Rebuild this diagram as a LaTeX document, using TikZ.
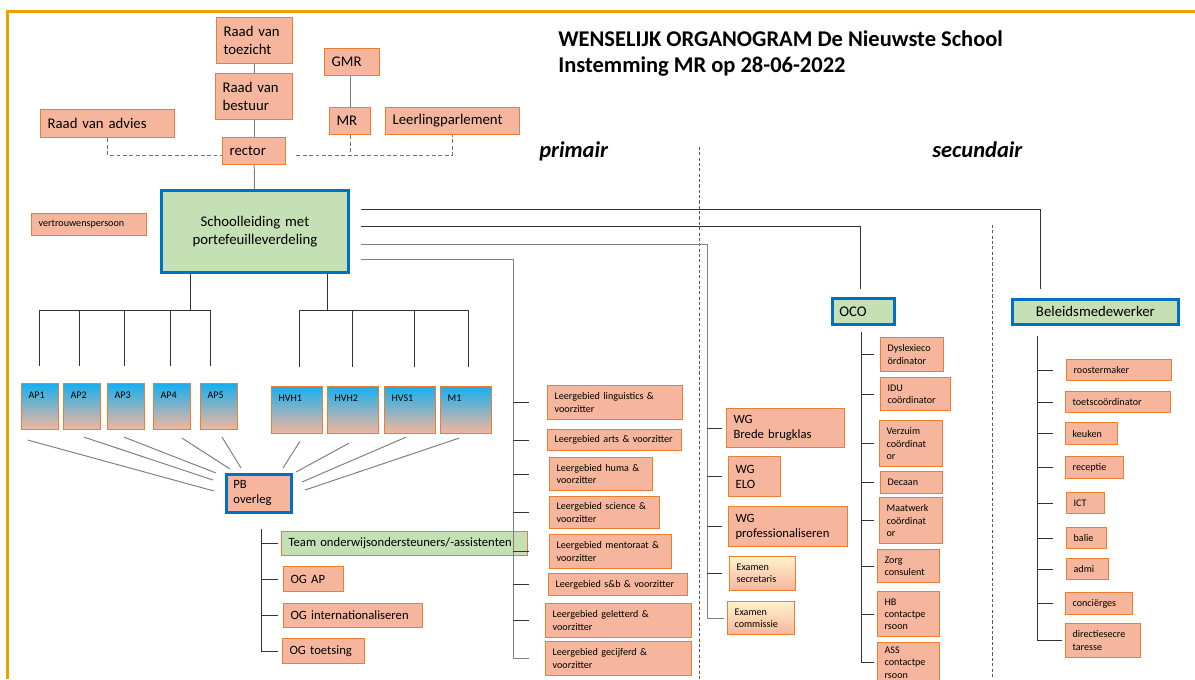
\documentclass[tikz,border=0pt]{standalone}
\usepackage{fontspec}
\setmainfont{Carlito}
\usetikzlibrary{calc}

\begin{document}
\begin{tikzpicture}[x=0.025cm,y=-0.025cm,
  boxat/.code 2 args={\pgfmathsetlengthmacro\boxw{#1*0.025cm-10pt}\pgfmathsetlengthmacro\boxh{#2*0.025cm}%
    \pgfkeysalso{anchor=north west,text width=\boxw,minimum height=\boxh,inner xsep=5pt,inner ysep=1pt,align=left}},
  pinknode/.style={draw=orangeline,fill=salmon,line width=0.8pt},
  greennode/.style={draw=orangeline,fill=leafgreen,line width=0.8pt},
  leadnode/.style={draw=boardblue,fill=leafgreen,line width=2pt},
  gradnode/.style={draw=orangeline,line width=0.8pt,top color=skyblue,bottom color=salmon,text height=5pt,text depth=17pt,inner ysep=4.5pt},
  examnode/.style={draw=orangeline,line width=0.8pt,top color=paleyellow,bottom color=salmon},
  smalltext/.style={font=\fontsize{7.2}{8.7}\selectfont},
  midtext/.style={font=\fontsize{9}{10.6}\selectfont},
  bigtext/.style={font=\fontsize{10.5}{12.8}\selectfont},
  link/.style={draw=black!80,line width=0.6pt},
  greylink/.style={draw=black!50,line width=0.7pt},
  dashlink/.style={draw=black!55,line width=0.8pt,dash pattern=on 2.8pt off 1.8pt},
  divider/.style={draw=black!65,line width=0.5pt,dash pattern=on 2.2pt off 1.6pt}]
\definecolor{salmon}{HTML}{F5B69D}
\definecolor{orangeline}{HTML}{ED7D31}
\definecolor{leafgreen}{HTML}{C5E0B4}
\definecolor{boardblue}{HTML}{0070C0}
\definecolor{skyblue}{HTML}{17AFEF}
\definecolor{paleyellow}{HTML}{FFF2CC}
\definecolor{framegold}{HTML}{E8A202}
\useasboundingbox[fill=white] (0,0) rectangle (1195,679);
\draw[framegold,line width=1.8pt] (7.5,679) -- (7.5,11.5) -- (1195,11.5);

\node[anchor=north west,align=left,inner sep=0pt,font=\fontsize{16}{18.5}\selectfont\bfseries] (title) at (558,30) {WENSELIJK ORGANOGRAM De Nieuwste School\\Instemming MR op 28-06-2022};
\node[anchor=base west,inner sep=0pt,font=\fontsize{16}{19}\selectfont\bfseries\itshape] (primair) at (539,157) {primair};
\node[anchor=base west,inner sep=0pt,font=\fontsize{16}{19}\selectfont\bfseries\itshape] (secundair) at (932,157) {secundair};
\draw[divider] (699,147) -- (699,679);
\draw[divider] (992,225) -- (992,679);

\node[pinknode,boxat={76}{46},bigtext] (toezicht) at (216,17) {Raad van\\toezicht};
\node[pinknode,boxat={77}{46},bigtext] (bestuur) at (215,73) {Raad van\\bestuur};
\node[pinknode,boxat={55}{27},bigtext] (gmr) at (324,48) {GMR};
\node[pinknode,boxat={41}{27},bigtext] (mr) at (329,107) {MR};
\node[pinknode,boxat={134}{27},bigtext] (parlement) at (385,107) {Leerlingparlement};
\node[pinknode,boxat={134}{28},bigtext] (advies) at (40,109) {Raad van advies};
\node[pinknode,boxat={63}{27},bigtext] (rector) at (222,137) {rector};
\node[pinknode,boxat={115}{22},smalltext] (vertrouwen) at (31,213) {vertrouwenspersoon};
\node[leadnode,boxat={187}{82},align=center,bigtext] (leiding) at (160,189) {Schoolleiding met\\portefeuilleverdeling};
\node[leadnode,boxat={62}{26},bigtext] (oco) at (831,297) {OCO};
\node[leadnode,boxat={166}{25},align=center,bigtext] (beleid) at (1011,298) {Beleidsmedewerker};
\node[pinknode,draw=boardblue,line width=2pt,boxat={65}{38},midtext] (pb) at (225,473) {PB\\overleg};

\draw[greylink] (toezicht) -- (bestuur);
\draw[greylink] (bestuur) -- (rector);
\draw[greylink] (rector) -- (leiding);
\draw[greylink] (mr.north) -- (mr.north |- gmr.south);
\draw[dashlink] (advies.south) |- ($(rector.west)+(0,4)$);
\coordinate (dashend) at ($(rector.east)+(10,4)$);
\draw[dashlink] (dashend) -| (parlement.south);
\draw[dashlink] (mr.south) -- (mr.south |- dashend);

\coordinate (apbar) at (190,310);
\coordinate (hvbar) at (327,310);
\draw[link] (apbar |- leiding.south) -- (apbar);
\draw[link] (hvbar |- leiding.south) -- (hvbar);
\draw[link] (39,310) -- (210,310);
\draw[link] (299,310) -- (468,310);
\foreach \n/\x/\lx in {1/21/39,2/63/79,3/107/124,4/153/170,5/200/210}
{ \node[boxat={37}{46},gradnode,smalltext] (ap\n) at (\x,383) {AP\n};
  \draw[link] (\lx,310) -- (\lx,366); }
\foreach \n/\x/\lx/\t in {1/271/299/HVH1,2/327/352/HVH2,3/384/414/HVS1,4/440/468/M1}
{ \node[boxat={51}{47},gradnode,smalltext] (hv\n) at (\x,386) {\t};
  \draw[link] (\lx,310) -- (\lx,367); }
\foreach \b/\sx/\sy/\ex/\ey in {ap1/-12/10/-11/18,ap2/2/7/-12/7,ap3/-2/7/-9/0,ap4/10/8/5/-4,ap5/3/7/16/-5,hv1/3/7/58/-5,hv2/-4/9/71/-1,hv3/-4/3/77/9,hv4/-7/4/80/17}
  \draw[greylink] ($(\b.south)+(\sx,\sy)$) -- ($(pb.north west)+(\ex,\ey)$);

\node[greennode,boxat={246}{24},midtext] (team) at (281,531) {Team onderwijsondersteuners/-assistenten};
\node[pinknode,boxat={60}{25},midtext] (ogap) at (283,566) {OG AP};
\node[pinknode,boxat={139}{24},midtext] (ogint) at (283,603) {OG internationaliseren};
\node[pinknode,boxat={82}{25},midtext] (ogtoets) at (282,638) {OG toetsing};
\coordinate (pbspine) at ($(pb.south west)+(36,15)$);
\draw[link] (pbspine) -- (pbspine |- ogtoets.west) -- ++(17,0);
\foreach \b in {team,ogap,ogint}
  \draw[link] (pbspine |- \b.west) -- ++(17,0);

\foreach \i/\x/\y/\w/\h/\t in {1/547/385/135/34/{Leergebied linguistics \&\\voorzitter},2/547/429/134/21/{Leergebied arts \& voorzitter},3/549/457/103/33/{Leergebied huma \&\\voorzitter},4/549/496/110/32/{Leergebied science \&\\voorzitter},5/549/534/122/34/{Leergebied mentoraat \&\\voorzitter},6/548/573/139/22/{Leergebied s\&b \& voorzitter},7/545/603/146/34/{Leergebied geletterd \&\\voorzitter},8/545/641/146/34/{Leergebied gecijferd \&\\voorzitter}}
  \node[pinknode,boxat={\w}{\h},smalltext] (lg\i) at (\x,\y) {\t};
\coordinate (lgspine) at (513,258);
\draw[greylink] ($(leiding.east)+(11,28)$) -| (lgspine |- lg8.west) -- ++(16,0);
\foreach \i in {1,...,7}
  \draw[link] (lgspine |- lg\i.west) -- ++(16,0);

\node[pinknode,boxat={118}{39},midtext] (wg1) at (726,408) {WG\\Brede brugklas};
\node[pinknode,boxat={52}{40},midtext] (wg2) at (728,456) {WG\\ELO};
\node[pinknode,boxat={119}{40},midtext] (wg3) at (728,506) {WG\\professionaliseren};
\node[examnode,boxat={66}{34},smalltext] (exam1) at (729,556) {Examen\\secretaris};
\node[examnode,boxat={67}{33},smalltext] (exam2) at (727,601) {Examen\\commissie};
\coordinate (wgspine) at (707,243);
\draw[greylink] ($(leiding.east)+(11,13)$) -| (wgspine |- exam2.west) -- ++(17,0);
\foreach \b in {wg1,wg2,wg3,exam1}
  \draw[link] (wgspine |- \b.west) -- ++(15,0);

\draw[link] ($(leiding.east)+(11,-22)$) -| ($(beleid.north west)+(29,-9)$);
\draw[link] ($(leiding.east)+(11,-5)$) -| ($(oco.north)+(-3,-8)$);

\foreach \i/\x/\y/\w/\h/\t in {1/880/337/63/34/{Dyslexieco\\ördinator},2/880/377/70/33/{IDU\\coördinator},3/879/420/63/46/{Verzuim\\coördinat\\or},4/880/471/62/22/{Decaan},5/879/497/63/46/{Maatwerk\\coördinat\\or},6/877/549/62/33/{Zorg\\consulent},7/877/591/62/45/{HB\\contactpe\\rsoon},8/877/642/62/40/{ASS\\contactpe\\rsoon}}
  \node[pinknode,boxat={\w}{\h},smalltext] (oc\i) at (\x,\y) {\t};
\coordinate (ocospine) at ($(oco.south)+(-2,6)$);
\draw[link] (ocospine) -- (ocospine |- oc8.west);
\foreach \i in {1,...,8}
  \draw[link] (ocospine |- oc\i.west) -- ++(13,0);

\foreach \i/\x/\y/\w/\h/\t in {1/1066/359/105/21/roostermaker,2/1065/391/105/21/toetscoördinator,3/1065/422/52/22/keuken,4/1065/456/58/22/receptie,5/1066/492/38/21/ICT,6/1066/527/40/21/balie,7/1066/558/42/21/admi,8/1065/592/67/22/conciërges,9/1065/623/75/34/{directiesecre\\taresse}}
  \node[pinknode,boxat={\w}{\h},smalltext] (bm\i) at (\x,\y) {\t};
\coordinate (bmspine) at ($(beleid.south west)+(26,10)$);
\draw[link] (bmspine) -- (bmspine |- bm9.west) -- ++(25,0);
\foreach \i in {1,...,8}
  \draw[link] (bmspine |- bm\i.west) -- ++(16,0);
\end{tikzpicture}
\end{document}
